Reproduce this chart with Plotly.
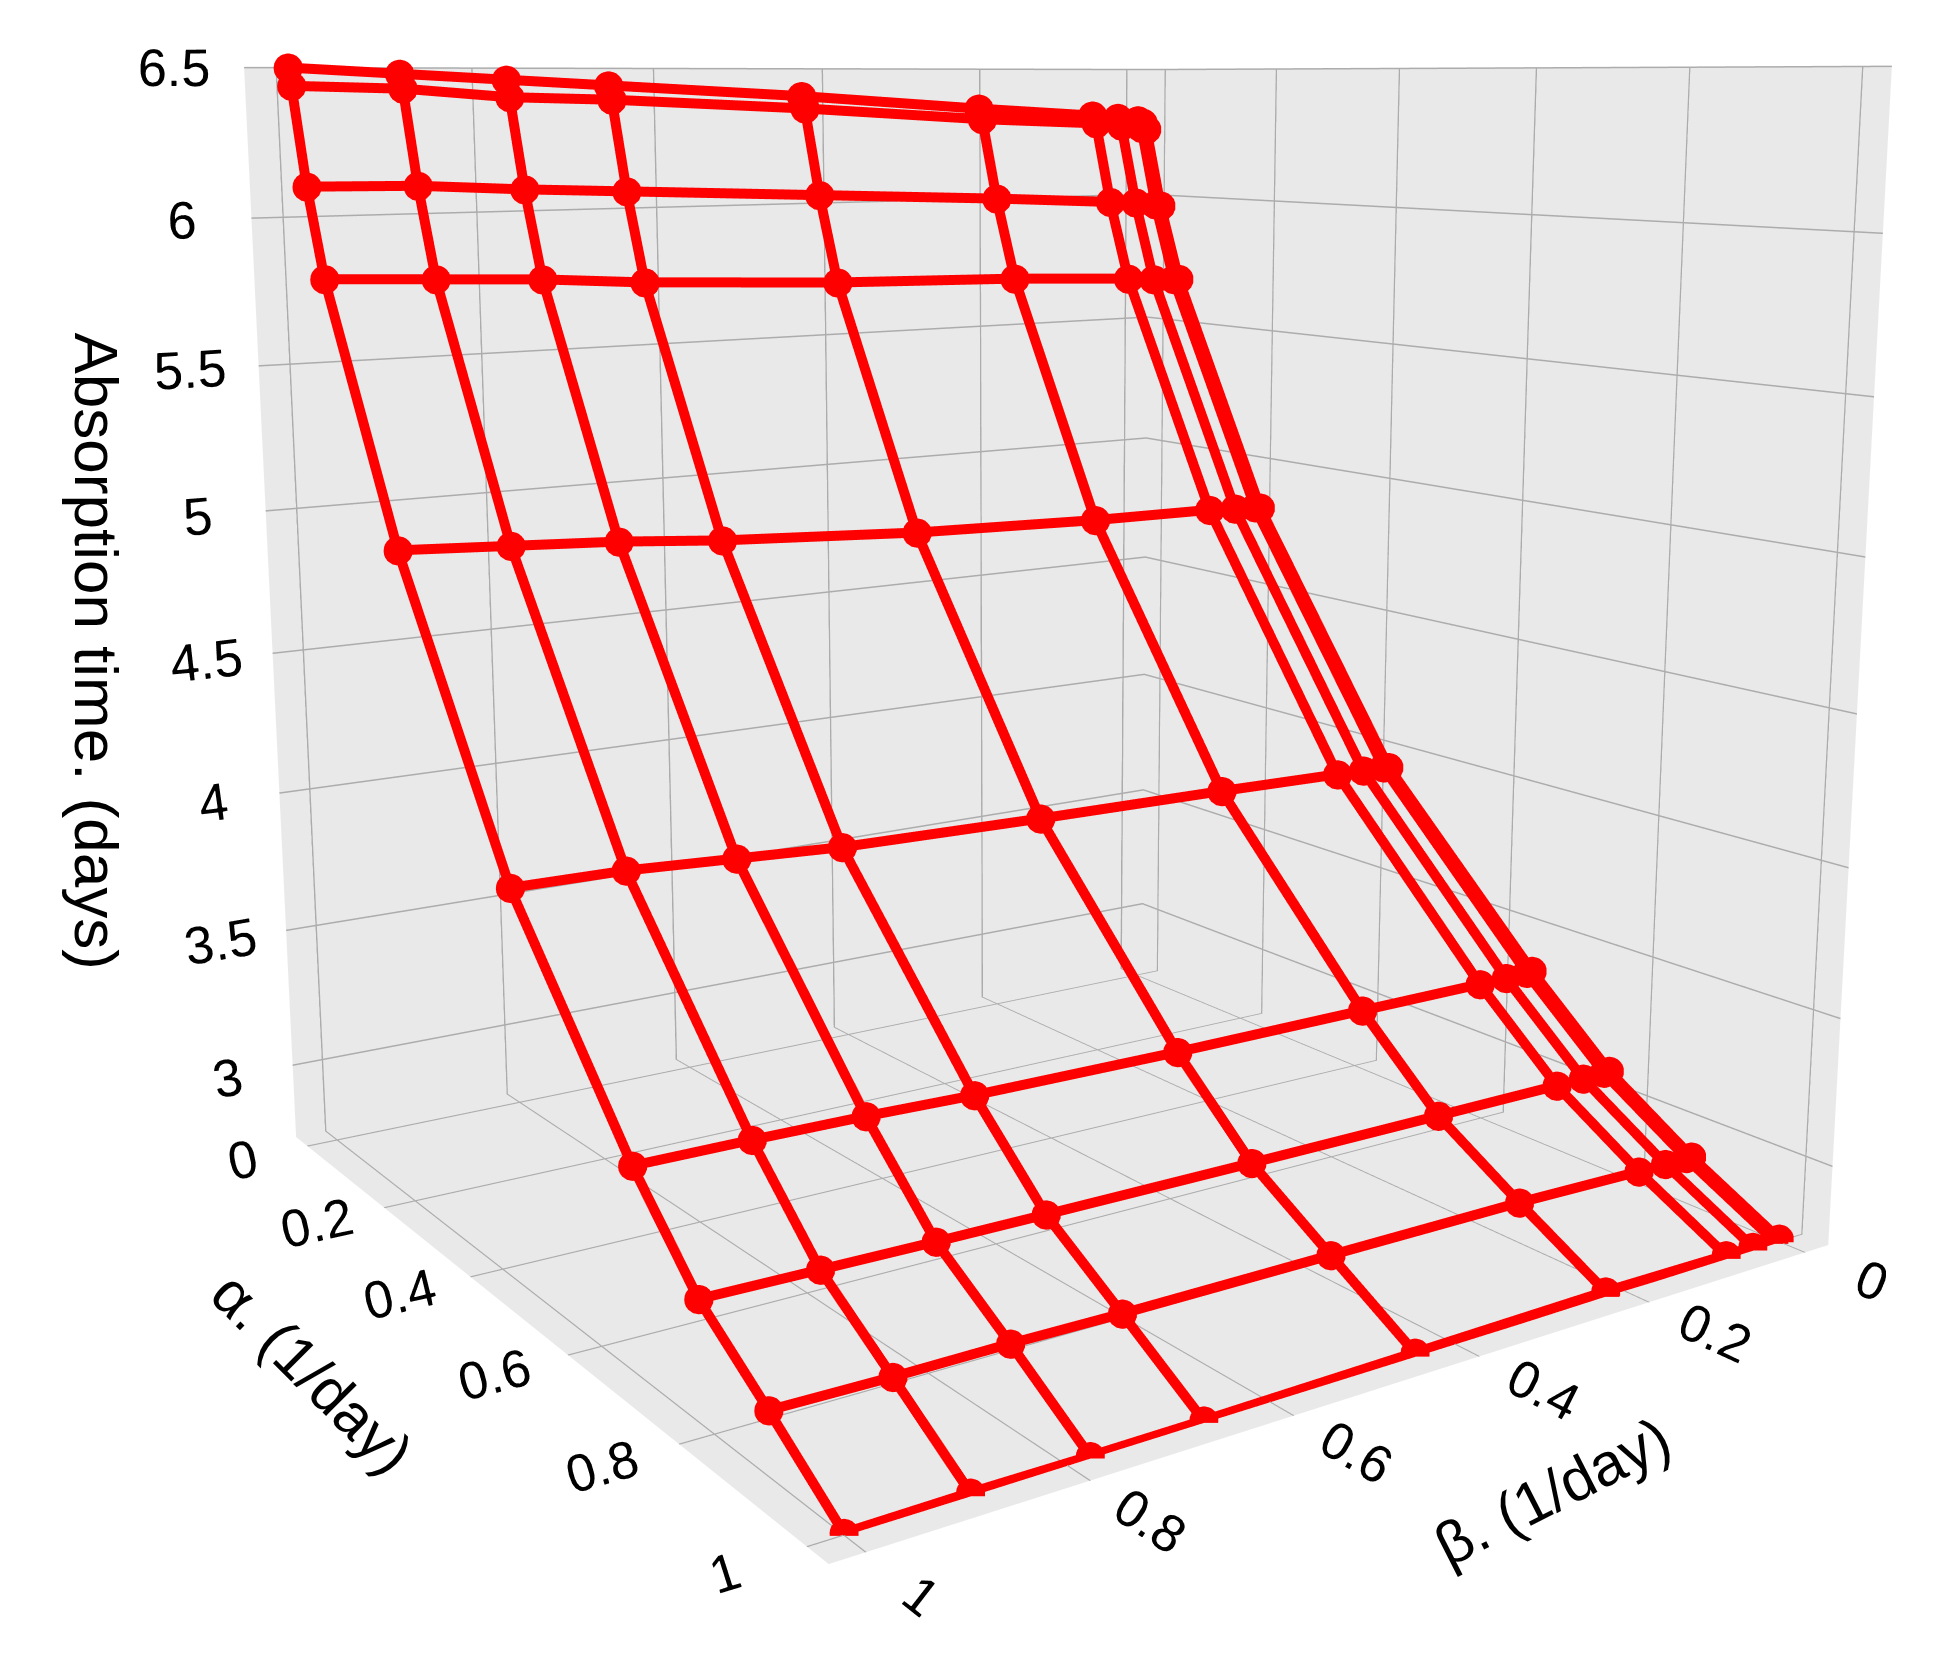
import plotly.graph_objects as go

# grid of rates (1/day)
alpha = [0, 0.007, 0.035, 0.07, 0.222, 0.444, 0.667, 0.778, 0.889, 1]
beta = [0, 0.007, 0.035, 0.07, 0.222, 0.444, 0.667, 0.778, 0.889, 1]

# absorption time (days), one row per alpha value, columns follow beta
t_a0 = [6.29, 6.30, 6.31, 6.32, 6.35, 6.40, 6.44, 6.46, 6.48, 6.50]
t_a1 = [6.265, 6.27, 6.28, 6.29, 6.31, 6.355, 6.39, 6.40, 6.43, 6.44]
t_a2 = [5.965, 5.97, 5.98, 5.985, 6.01, 6.04, 6.07, 6.085, 6.105, 6.11]
t_a3 = [5.68, 5.68, 5.683, 5.69, 5.71, 5.725, 5.755, 5.78, 5.795, 5.81]
t_a4 = [4.824, 4.827, 4.83, 4.835, 4.84, 4.86, 4.90, 4.93, 4.95, 4.97]
t_a5 = [3.94, 3.942, 3.943, 3.945, 3.955, 3.965, 3.98, 4.00, 4.02, 4.025]
t_a6 = [3.35, 3.347, 3.345, 3.344, 3.345, 3.346, 3.355, 3.366, 3.372, 3.375]
t_a7 = [3.09, 3.088, 3.086, 3.085, 3.086, 3.088, 3.092, 3.095, 3.10, 3.105]
t_a8 = [2.90, 2.90, 2.90, 2.90, 2.91, 2.913, 2.915, 2.92, 2.92, 2.925]
t_a9 = [2.74, 2.74, 2.74, 2.74, 2.745, 2.74, 2.735, 2.735, 2.738, 2.736]

T = [t_a0, t_a1, t_a2, t_a3, t_a4, t_a5, t_a6, t_a7, t_a8, t_a9]

rate_ticks = [0, 0.2, 0.4, 0.6, 0.8, 1]
time_ticks = [3, 3.5, 4, 4.5, 5, 5.5, 6, 6.5]

red = "rgb(255,0,0)"
fig = go.Figure()

# lines of constant alpha
for i, a in enumerate(alpha):
    fig.add_trace(go.Scatter3d(
        x=beta, y=[a] * len(beta), z=T[i],
        mode="lines+markers",
        line=dict(color=red, width=20),
        marker=dict(color=red, size=17),
        showlegend=False, hoverinfo="skip",
    ))

# lines of constant beta
for j, b in enumerate(beta):
    fig.add_trace(go.Scatter3d(
        x=[b] * len(alpha), y=alpha, z=[row[j] for row in T],
        mode="lines+markers",
        line=dict(color=red, width=20),
        marker=dict(color=red, size=17),
        showlegend=False, hoverinfo="skip",
    ))

axis_common = dict(
    title=dict(text=""),
    showbackground=True,
    backgroundcolor="rgb(233,233,233)",
    gridcolor="rgb(172,172,172)",
    gridwidth=3,
    zeroline=False,
    showspikes=False,
    ticks="outside",
    tickcolor="rgba(0,0,0,0)",
    tickfont=dict(family="Liberation Sans, Arial", size=25, color="black"),
)
title_font = dict(family="Liberation Sans, Arial", size=60, color="black")

# the scene is drawn on a larger canvas and placed so that the window shows
# the same narrow field of view as the original picture
W, H = 2900, 2458
fig.update_layout(
    width=W,
    height=H,
    margin=dict(l=0, r=0, t=0, b=0),
    paper_bgcolor="white",
    font=dict(family="Liberation Sans, Arial", color="black"),
    scene=dict(
        xaxis=dict(range=[-0.03125, 1.03125], tickvals=rate_ticks, ticklen=42, **axis_common),
        yaxis=dict(range=[-0.03125, 1.03125], tickvals=rate_ticks, ticklen=50, **axis_common),
        zaxis=dict(range=[2.73, 6.5], tickvals=time_ticks, ticklen=47, **axis_common),
        aspectmode="cube",
        camera=dict(eye=dict(x=1.434, y=2.115, z=0.49),
                    center=dict(x=0, y=0, z=0)),
    ),
    annotations=[
        dict(text="Absorption time. (days)", x=0.18, y=0.499, textangle=90,
             font=dict(title_font, size=62)),
        dict(text="α. (1/day)", x=0.2543, y=0.205, textangle=45, font=title_font),
        dict(text="β. (1/day)", x=0.682, y=0.157, textangle=-27, font=title_font),
    ],
)
fig.update_annotations(xref="paper", yref="paper", xanchor="center",
                       yanchor="middle", showarrow=False)

shift = """
var gd = document.getElementById('{plot_id}');
document.documentElement.style.overflow = 'hidden';
document.body.style.margin = '0';
document.body.style.overflow = 'hidden';
gd.style.position = 'absolute';
gd.style.left = '-425px';
gd.style.top = '-581px';
"""

fig.write_html("out.html", post_script=shift, config={"displayModeBar": False})
